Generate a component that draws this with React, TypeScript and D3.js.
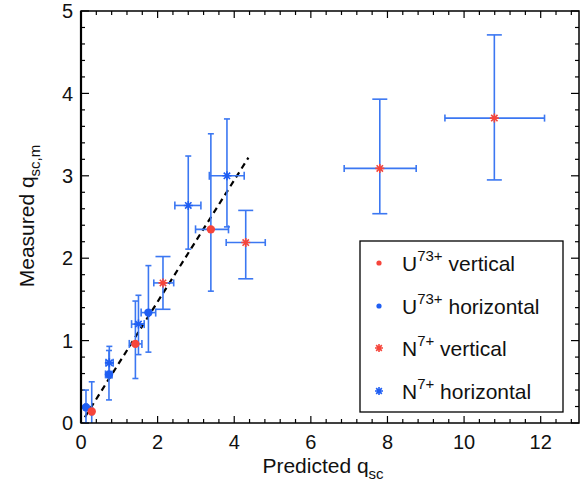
import React from "react";
import * as d3 from "d3";

// U73+ vertical (red dots)
const uVertX = [0.28, 1.42, 3.39];
const uVertY = [0.14, 0.96, 2.35];
const uVertXLo = [0.25, 1.26, 2.99];
const uVertXHi = [0.31, 1.59, 3.85];
const uVertYLo = [-0.22, 0.54, 1.6];
const uVertYHi = [0.5, 1.48, 3.51];

// U73+ horizontal (blue dots)
const uHorX = [0.13, 0.73, 1.76];
const uHorY = [0.19, 0.59, 1.34];
const uHorXLo = [0.1, 0.64, 1.57];
const uHorXHi = [0.16, 0.81, 1.95];
const uHorYLo = [0.0, 0.28, 0.86];
const uHorYHi = [0.4, 0.88, 1.91];

// N7+ vertical (red asterisks)
const nVertX = [2.14, 4.3, 7.8, 10.79];
const nVertY = [1.7, 2.19, 3.09, 3.7];
const nVertXLo = [1.9, 3.79, 6.87, 9.5];
const nVertXHi = [2.42, 4.81, 8.75, 12.1];
const nVertYLo = [1.38, 1.75, 2.54, 2.95];
const nVertYHi = [2.02, 2.58, 3.93, 4.71];

// N7+ horizontal (blue asterisks)
const nHorX = [0.74, 1.5, 2.8, 3.81];
const nHorY = [0.73, 1.2, 2.64, 3.0];
const nHorXLo = [0.65, 1.32, 2.45, 3.35];
const nHorXHi = [0.84, 1.65, 3.13, 4.26];
const nHorYLo = [0.55, 0.83, 2.11, 2.38];
const nHorYHi = [0.93, 1.55, 3.24, 3.69];

// dashed fit line
const fitX = [0.1, 4.37];
const fitY = [0.07, 3.22];

const xTicks = [0, 2, 4, 6, 8, 10, 12];
const yTicks = [0, 1, 2, 3, 4, 5];

const RED = "#f6453b";
const BLUE = "#1f5ef3";
const BAR = "#3b77f2";
const FONT = "'Liberation Sans', Arial, Helvetica, sans-serif";

const L = 81, R = 579, T = 11, B = 423;
const x = d3.scaleLinear().domain([0, 13]).range([L, R]);
const y = d3.scaleLinear().domain([0, 5]).range([B, T]);

type Series = {
  xs: number[]; ys: number[]; xlo: number[]; xhi: number[]; ylo: number[]; yhi: number[];
  color: string; marker: "dot" | "star"; vcap: number; hcap: number;
};

const series: Series[] = [
  { xs: uHorX, ys: uHorY, xlo: uHorXLo, xhi: uHorXHi, ylo: uHorYLo, yhi: uHorYHi, color: BLUE, marker: "dot", vcap: 3, hcap: 4 },
  { xs: uVertX, ys: uVertY, xlo: uVertXLo, xhi: uVertXHi, ylo: uVertYLo, yhi: uVertYHi, color: RED, marker: "dot", vcap: 3, hcap: 4 },
  { xs: nHorX, ys: nHorY, xlo: nHorXLo, xhi: nHorXHi, ylo: nHorYLo, yhi: nHorYHi, color: BLUE, marker: "star", vcap: 3, hcap: 4 },
  { xs: nVertX, ys: nVertY, xlo: nVertXLo, xhi: nVertXHi, ylo: nVertYLo, yhi: nVertYHi, color: RED, marker: "star", vcap: 7.5, hcap: 3.5 },
];

function starPath(cx: number, cy: number, r: number) {
  let p = "";
  for (let k = 0; k < 4; k++) {
    const a = (k * Math.PI) / 4;
    const dx = r * Math.cos(a), dy = r * Math.sin(a);
    p += `M${cx - dx},${cy - dy}L${cx + dx},${cy + dy}`;
  }
  return p;
}

function Marker({ kind, cx, cy, color, small }: { kind: "dot" | "star"; cx: number; cy: number; color: string; small?: boolean }) {
  if (kind === "dot") return <circle cx={cx} cy={cy} r={small ? 2.6 : 4.2} fill={color} />;
  return <path d={starPath(cx, cy, small ? 4 : 4.5)} stroke={color} strokeWidth={1.6} fill="none" />;
}

export default function App() {
  const xMinor = d3.range(0, 13.001, 0.4);
  const yMinor = d3.range(0, 5.001, 0.2);
  const legend = [
    { label: "U", sup: "73+", rest: " vertical", color: RED, kind: "dot" as const, yy: 263 },
    { label: "U", sup: "73+", rest: " horizontal", color: BLUE, kind: "dot" as const, yy: 306 },
    { label: "N", sup: "7+", rest: " vertical", color: RED, kind: "star" as const, yy: 348 },
    { label: "N", sup: "7+", rest: " horizontal", color: BLUE, kind: "star" as const, yy: 391 },
  ];
  return (
    <svg width={587} height={492} style={{ position: "absolute", left: 0, top: 0, background: "#fff" }} fontFamily={FONT}>
      <defs>
        <clipPath id="plot">
          <rect x={L} y={T} width={R - L} height={B - T} />
        </clipPath>
      </defs>
      <rect x={0} y={0} width={587} height={492} fill="#fff" />

      {/* ticks */}
      <g stroke="#000" strokeWidth={1.2}>
        {xMinor.map((v, i) => {
          const major = Math.abs(v / 2 - Math.round(v / 2)) < 1e-6;
          const len = major ? 7 : 4;
          return (
            <g key={"xt" + i}>
              <line x1={x(v)} x2={x(v)} y1={B} y2={B - len} />
              <line x1={x(v)} x2={x(v)} y1={T} y2={T + len} />
            </g>
          );
        })}
        {yMinor.map((v, i) => {
          const major = Math.abs(v - Math.round(v)) < 1e-6;
          const len = major ? 8 : 4;
          return (
            <g key={"yt" + i}>
              <line y1={y(v)} y2={y(v)} x1={L} x2={L + len} />
              <line y1={y(v)} y2={y(v)} x1={R} x2={R - len} />
            </g>
          );
        })}
      </g>

      {/* dashed fit line */}
      <line x1={x(fitX[0])} y1={y(fitY[0])} x2={x(fitX[1])} y2={y(fitY[1])} stroke="#000" strokeWidth={2.2} strokeDasharray="6,4.5" />

      {/* error bars */}
      <g clipPath="url(#plot)" stroke={BAR} strokeWidth={1.6} fill="none">
        {series.map((s, si) =>
          s.xs.map((xv, i) => {
            const px = x(xv), py = y(s.ys[i]);
            const x0 = x(s.xlo[i]), x1 = x(s.xhi[i]);
            const y0 = y(s.ylo[i]), y1 = y(s.yhi[i]);
            return (
              <g key={`e${si}-${i}`}>
                <line x1={px} x2={px} y1={y0} y2={y1} />
                <line x1={px - s.vcap} x2={px + s.vcap} y1={y0} y2={y0} />
                <line x1={px - s.vcap} x2={px + s.vcap} y1={y1} y2={y1} />
                <line x1={x0} x2={x1} y1={py} y2={py} />
                <line x1={x0} x2={x0} y1={py - s.hcap} y2={py + s.hcap} />
                <line x1={x1} x2={x1} y1={py - s.hcap} y2={py + s.hcap} />
              </g>
            );
          })
        )}
      </g>

      {/* markers */}
      <g clipPath="url(#plot)">
        {series.map((s, si) =>
          s.xs.map((xv, i) => (
            <Marker key={`m${si}-${i}`} kind={s.marker} cx={x(xv)} cy={y(s.ys[i])} color={s.color} />
          ))
        )}
      </g>

      {/* frame */}
      <rect x={L} y={T} width={R - L} height={B - T} fill="none" stroke="#000" strokeWidth={1.5} />
      <line x1={L} x2={L} y1={T} y2={B} stroke="#000" strokeWidth={2.2} />

      {/* tick labels */}
      <g fontSize={20} fill="#111">
        {xTicks.map((v) => (
          <text key={"xl" + v} x={x(v)} y={449} textAnchor="middle">{v}</text>
        ))}
        {yTicks.map((v) => (
          <text key={"yl" + v} x={73} y={y(v)} dy="0.36em" textAnchor="end">{v}</text>
        ))}
      </g>

      {/* axis titles */}
      <text x={323} y={473} textAnchor="middle" fontSize={21} fill="#111">
        Predicted q<tspan fontSize={15} dy={6}>sc</tspan>
      </text>
      <text transform="translate(34,216) rotate(-90)" textAnchor="middle" fontSize={21} fill="#111">
        Measured q<tspan fontSize={15} dy={6}>sc,m</tspan>
      </text>

      {/* legend */}
      <rect x={360} y={241} width={203} height={171} fill="#fff" stroke="#000" strokeWidth={1.3} />
      {legend.map((e, i) => (
        <g key={"lg" + i}>
          <Marker kind={e.kind} cx={379} cy={e.yy} color={e.color} small />
          <text x={402} y={e.yy + 8} fontSize={21} fill="#111">
            {e.label}
            <tspan fontSize={15} dy={-10}>{e.sup}</tspan>
            <tspan dy={10}>{e.rest}</tspan>
          </text>
        </g>
      ))}
    </svg>
  );
}
